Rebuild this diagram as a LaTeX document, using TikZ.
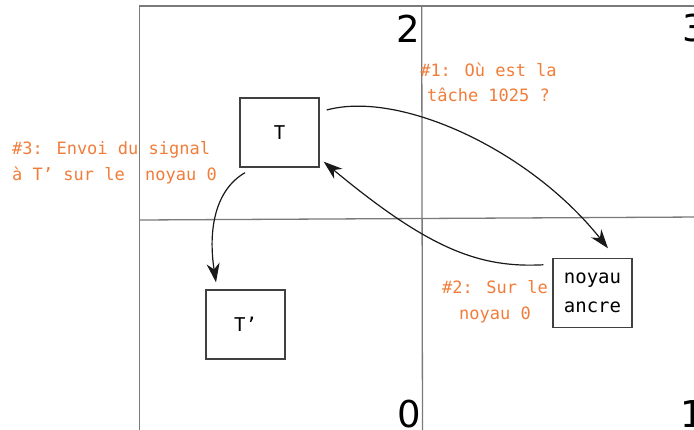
\documentclass[tikz,border=0pt]{standalone}
\usepackage{fontspec}
\setmainfont{DejaVu Sans}
\newfontfamily\monofam{DejaVu Sans Mono}
\usetikzlibrary{arrows.meta}
\definecolor{note}{HTML}{F27D3A}
\definecolor{gridc}{HTML}{7A7A7A}
\definecolor{boxc}{HTML}{404040}
\tikzset{
  gridline/.style={draw=gridc, line width=1.3pt},
  task/.style={draw=boxc, line width=1.4pt, minimum width=79pt, minimum height=69pt, inner sep=0pt, align=center, font=\monofam\fontsize{19}{29}\selectfont},
  notetext/.style={text=note, inner sep=0pt, font=\monofam\fontsize{17}{25.5}\selectfont},
  corenum/.style={inner sep=0pt, font=\fontsize{37}{37}\selectfont},
  link/.style={draw=black!90, line width=1.2pt, -{Stealth[length=19pt,width=13pt,inset=6pt]}}
}
\begin{document}
\begin{tikzpicture}[x=1pt,y=-1pt]
\useasboundingbox (0,0) rectangle (694,429);
\fill[white] (0,0) rectangle (694,429);
% grid
\draw[gridline] (139.3,435) -- (139.3,6) -- (700,6);
\draw[gridline] (422.5,435) -- (421.7,6);
\draw[gridline] (139.3,220) -- (700,217);
% core numbers
\node[corenum] (n2) at (408,28.5) {2};
\node[corenum] (n3) at (694,28.5) {3};
\node[corenum] (n0) at (409,414) {0};
\node[corenum] (n1) at (692,414) {1};
% tasks
\node[task] (T) at (279.5,132.5) {T};
\node[task] (Tp) at (245.5,324.5) {T’};
\node[task] (ancre) at (592.5,292.8) {noyau\\ancre};
% notes
\node[notetext, align=center] (note1) at (488.5,82.5) {\#1: Où est la\\tâche 1025 ?};
\node[notetext, align=left, anchor=west] (note3) at (12,163) {\#3: Envoi du signal\\à T’ sur le\ \ noyau 0};
\node[notetext, align=center] (note2) at (495,302) {\#2: Sur le\\noyau 0};
% connectors
\draw[link] ([xshift=7pt,yshift=22.5pt]T.east) .. controls (400,90) and (530,150) .. ([xshift=15.5pt,yshift=9.3pt]ancre.north);
\draw[link] ([xshift=-9pt,yshift=28pt]ancre.west) .. controls (480,268) and (430,250) .. ([xshift=4pt,yshift=6pt]T.south east);
\draw[link] ([xshift=-34.5pt,yshift=-5pt]T.south) .. controls (215,190) and (208,230) .. ([xshift=-29.5pt,yshift=7pt]Tp.north);
\end{tikzpicture}
\end{document}
